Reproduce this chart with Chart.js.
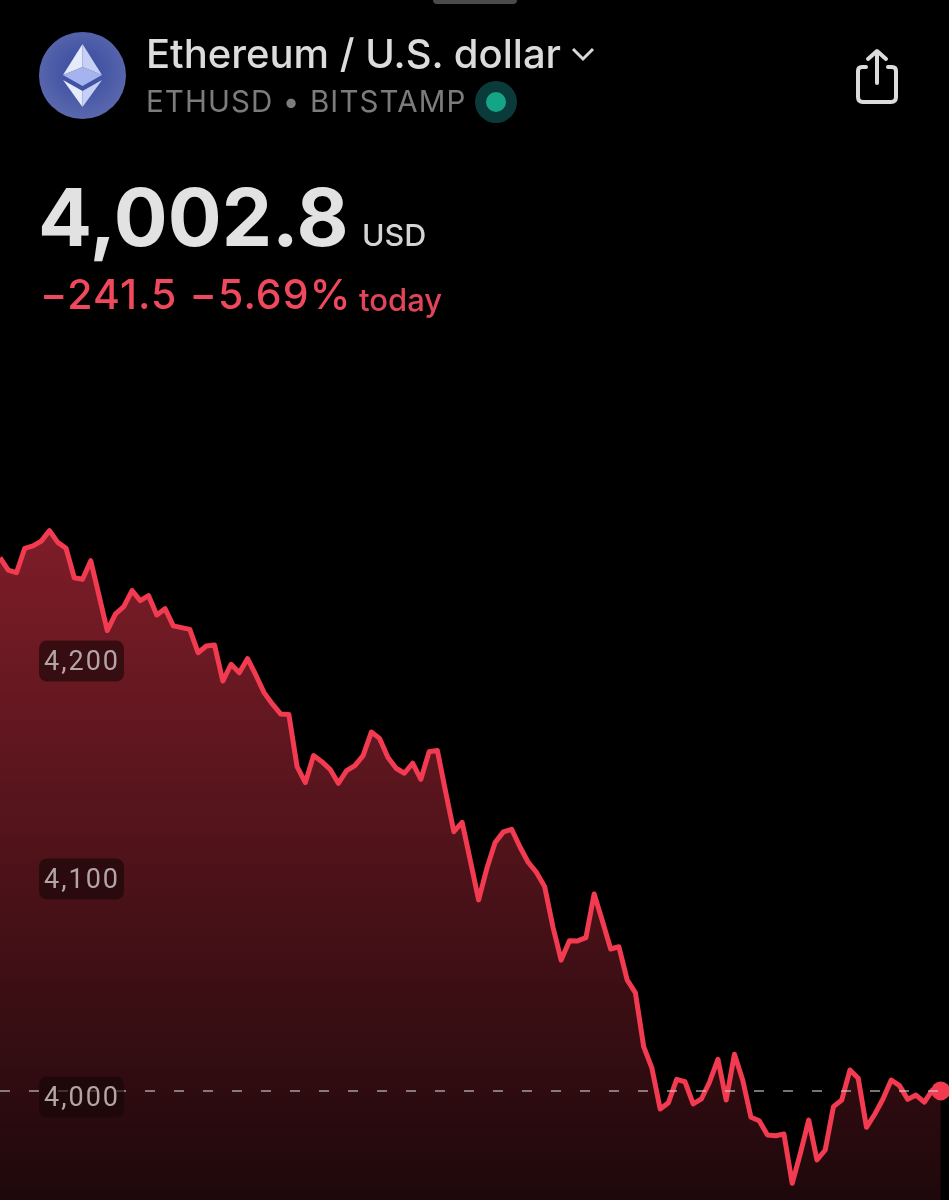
<!DOCTYPE html>
<html>
<head>
<meta charset="utf-8">
<title>ETHUSD</title>
<script src="https://cdn.jsdelivr.net/npm/chart.js@4"></script>
<style>
  html, body { margin: 0; background: #000; width: 949px; height: 1200px; overflow: hidden; }
  body { position: relative; font-family: Inter, Roboto, sans-serif; }
  canvas { position: absolute; left: 0; top: 0; }
  .txt { position: absolute; white-space: nowrap; line-height: 1; }
  svg { position: absolute; }
  #grabber { position: absolute; left: 433px; top: 0; width: 84px; height: 4px; background: #4a4a4a; border-radius: 0 0 5px 5px; }
  #title { left: 146px; top: 34px; font-size: 40px; font-weight: 500; color: #dcdcdc; }
  #symbol { left: 146px; top: 87px; font-size: 29.5px; letter-spacing: 1.1px; color: #7c7c7c; }
  #price { left: 38px; top: 177px; font-size: 80px; font-weight: 700; color: #e2e2e2; }
  #unit { left: 362px; top: 220px; font-size: 30.5px; font-weight: 500; color: #d4d4d4; }
  #change { left: 40px; top: 274px; font-size: 41px; font-weight: 500; letter-spacing: 1.1px; color: #f0485c; }
  #today { left: 359px; top: 284px; font-size: 31px; font-weight: 500; color: #e2445a; }
</style>
</head>
<body>
<canvas id="my-chart" width="949" height="1200"></canvas>

<div id="grabber"></div>

<svg style="left:39px;top:32px" width="87" height="87" viewBox="0 0 87 87">
  <defs>
    <radialGradient id="coin" cx="50%" cy="45%" r="55%">
      <stop offset="0%" stop-color="#36489f"/>
      <stop offset="100%" stop-color="#5a68ad"/>
    </radialGradient>
  </defs>
  <circle cx="43.5" cy="43.5" r="43.5" fill="url(#coin)"/>
  <polygon points="43.5,12 24,43 43.5,35" fill="#e6ebfb"/>
  <polygon points="43.5,12 63,43 43.5,35" fill="#c6d0f4"/>
  <polygon points="24,43 43.5,35 63,43 43.5,54" fill="#a5b4ee"/>
  <polygon points="24,48 43.5,75 43.5,59" fill="#e6ebfb"/>
  <polygon points="63,48 43.5,75 43.5,59" fill="#c6d0f4"/>
</svg>

<svg style="left:570px;top:46px" width="26" height="16" viewBox="0 0 26 16">
  <polyline points="3,3 13,13 23,3" fill="none" stroke="#d8d8d8" stroke-width="3"/>
</svg>

<svg style="left:850px;top:44px" width="54" height="64" viewBox="0 0 54 64">
  <path d="M16 23 H12 Q8 23 8 27 V53 Q8 58 13 58 H41 Q46 58 46 53 V27 Q46 23 42 23 H38" fill="none" stroke="#dcdcdc" stroke-width="4" stroke-linecap="round"/>
  <path d="M27 39 V8 M18 15 L27 7 L36 15" fill="none" stroke="#dcdcdc" stroke-width="4" stroke-linecap="round" stroke-linejoin="round"/>
</svg>

<svg style="left:474px;top:80px" width="44" height="44" viewBox="0 0 44 44">
  <circle cx="22" cy="22" r="21" fill="#0b3a3b"/>
  <circle cx="22" cy="22" r="10" fill="#13a586"/>
</svg>

<div class="txt" id="title">Ethereum / U.S. dollar</div>
<div class="txt" id="symbol">ETHUSD • BITSTAMP</div>
<div class="txt" id="price">4,002.8</div>
<div class="txt" id="unit">USD</div>
<div class="txt" id="change">−241.5 −5.69%</div>
<div class="txt" id="today">today</div>

<script>
// intraday prices
const pricesA = [
  4247.4, 4241.7, 4240.5, 4251.7, 4252.8, 4255.0, 4259.8, 4254.4, 4251.7, 4238.2,
  4237.5, 4246.0, 4230.0, 4213.9, 4221.6, 4224.9, 4232.3, 4227.7, 4230.0, 4221.1,
  4224.0, 4216.1, 4215.3, 4214.5, 4203.8, 4206.9, 4207.3, 4190.8, 4198.5, 4194.6,
  4201.1, 4193.6, 4185.5, 4180.3, 4175.7, 4175.5, 4151.5, 4144.2, 4156.6, 4153.8,
];
const pricesB = [
  4150.3, 4143.9, 4149.7, 4152.0, 4156.6, 4167.4, 4164.5, 4155.8, 4150.8, 4148.5,
  4153.1, 4145.7, 4158.4, 4158.9, 4140.0, 4121.7, 4126.0, 4108.3, 4090.4, 4104.9,
  4116.7, 4121.6, 4122.8, 4114.8, 4107.7, 4103.1, 4096.5, 4078.1, 4062.8, 4071.7,
  4071.6, 4073.1, 4093.1, 4080.7, 4067.9, 4068.9, 4053.7, 4047.8, 4023.1, 4013.2,
];
const pricesC = [
  3994.5, 3997.4, 4008.1, 4007.0, 3996.8, 3999.1, 4007.0, 4017.3, 3998.6, 4019.6,
  4007.8, 3990.7, 3989.1, 3982.6, 3982.2, 3983.0, 3960.4, 3974.3, 3989.4, 3971.1,
  3975.7, 3995.6, 3998.6, 4012.4, 4008.6, 3986.1, 3992.1, 3999.1, 4007.8, 4005.2,
  3998.9, 4000.9, 3997.6, 4003.2, 4002.8,
];
const prices = [...pricesA, ...pricesB, ...pricesC];

// one spare slot on the right, the line stops just short of the edge
const labels = [...prices.keys(), prices.length];

const lastPrice = 4002.8;
const lastPriceLine = labels.map(() => lastPrice);
const tickValues = [4000, 4100, 4200];

const yMin = 3952.75;
const yMax = 4503.2;

function areaFill(context) {
  const { ctx, chartArea } = context.chart;
  if (!chartArea) return null;
  const gradient = ctx.createLinearGradient(0, 500, 0, chartArea.bottom);
  gradient.addColorStop(0, '#821e2a');
  gradient.addColorStop(0.5, '#50131a');
  gradient.addColorStop(1, '#1e080b');
  return gradient;
}

// rounded boxes behind the price labels, the built in backdrop is square
const labelBoxes = {
  id: 'labelBoxes',
  beforeDraw(chart) {
    chart.ctx.letterSpacing = '2px';
  },
  afterDatasetsDraw(chart) {
    const { ctx, scales } = chart;
    ctx.save();
    ctx.fillStyle = 'rgba(22, 6, 7, 0.62)';
    tickValues.forEach((v) => {
      const y = scales.y.getPixelForValue(v);
      ctx.beginPath();
      ctx.roundRect(39, y - 20.5, 85, 41, 8);
      ctx.fill();
    });
    ctx.restore();
  },
};

const ctx = document.getElementById('my-chart').getContext('2d');

new Chart(ctx, {
  type: 'line',
  plugins: [labelBoxes],
  data: {
    labels,
    datasets: [
      {
        data: prices,
        order: 1,
        borderColor: '#f23b50',
        borderWidth: 5,
        borderJoinStyle: 'round',
        tension: 0,
        fill: 'start',
        backgroundColor: areaFill,
        clip: false,
        pointRadius: (c) => (c.dataIndex === prices.length - 1 ? 9.5 : 0),
        pointBackgroundColor: '#f23b50',
        pointBorderWidth: 0,
      },
      {
        data: lastPriceLine,
        order: 0,
        borderColor: 'rgba(205, 205, 205, 0.75)',
        borderWidth: 1.5,
        borderDash: [10, 19],
        pointRadius: 0,
        fill: false,
      },
    ],
  },
  options: {
    responsive: false,
    animation: false,
    events: [],
    layout: { padding: 0, autoPadding: false },
    plugins: { legend: { display: false }, tooltip: { enabled: false } },
    scales: {
      x: { display: false },
      y: {
        min: yMin,
        max: yMax,
        position: 'left',
        border: { display: false },
        grid: { display: false, drawTicks: false },
        afterBuildTicks(scale) {
          scale.ticks = tickValues.map((value) => ({ value }));
        },
        afterFit(scale) {
          scale.width = 0;
          scale.paddingTop = 0;
          scale.paddingBottom = 0;
        },
        ticks: {
          mirror: true,
          padding: 44,
          labelOffset: 2.5,
          z: 1,
          color: '#b3a5a6',
          font: { family: 'Roboto', size: 27 },
          autoSkip: false,
          callback: (v) => v.toLocaleString('en-US'),
        },
      },
    },
  },
});
</script>
</body>
</html>
